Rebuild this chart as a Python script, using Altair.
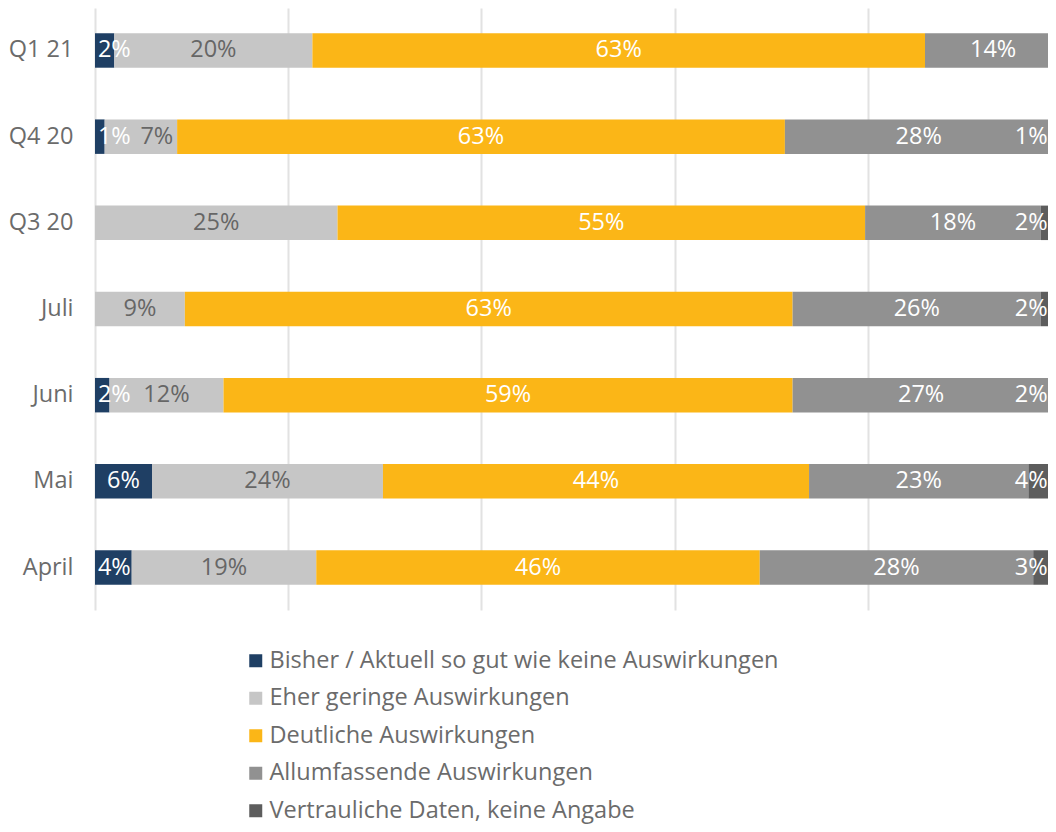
import altair as alt
import pandas as pd

categories = ["Q1 21", "Q4 20", "Q3 20", "Juli", "Juni", "Mai", "April"]
series = [
    "Bisher / Aktuell so gut wie keine Auswirkungen",
    "Eher geringe Auswirkungen",
    "Deutliche Auswirkungen",
    "Allumfassende Auswirkungen",
    "Vertrauliche Daten, keine Angabe",
]
colors = ["#1f3f64", "#c6c6c6", "#fbb617", "#919191", "#5d5d5d"]
label_colors = ["#ffffff", "#666666", "#ffffff", "#ffffff", "#ffffff"]

# segment widths (percent) per series, in category order
bisher = [2.0, 1.0, 0.0, 0.0, 1.5, 5.9, 3.8]
gering = [20.5, 7.5, 25.1, 9.3, 11.8, 23.9, 19.1]
deutlich = [63.4, 62.9, 54.6, 62.9, 58.9, 44.1, 45.9]
allumf = [14.1, 27.7, 18.2, 25.7, 26.6, 22.7, 28.3]
vertraul = [0.0, 0.9, 2.1, 2.1, 1.3, 3.4, 2.9]

# printed labels
lab_bisher = ["2%", "1%", "", "", "2%", "6%", "4%"]
lab_gering = ["20%", "7%", "25%", "9%", "12%", "24%", "19%"]
lab_deutlich = ["63%", "63%", "55%", "63%", "59%", "44%", "46%"]
lab_allumf = ["14%", "28%", "18%", "26%", "27%", "23%", "28%"]
lab_vertraul = ["", "1%", "2%", "2%", "2%", "4%", "3%"]

vals = [bisher, gering, deutlich, allumf, vertraul]
labs = [lab_bisher, lab_gering, lab_deutlich, lab_allumf, lab_vertraul]

rows = []
for si, (s, v, l) in enumerate(zip(series, vals, labs)):
    for ci, c in enumerate(categories):
        rows.append({"cat": c, "series": s, "order": si, "value": v[ci],
                     "label": l[ci], "lcolor": label_colors[si]})
df = pd.DataFrame(rows)

FONT = "Open Sans"
FS = 23.5
XMAX = 98.63

x_scale = alt.Scale(domain=[0, XMAX], nice=False, zero=True)
y_scale = alt.Scale(domain=categories, paddingInner=0.6, paddingOuter=0.293)

base = alt.Chart(df).transform_filter("datum.value > 0").transform_stack(
    stack="value", groupby=["cat"], as_=["x0", "x1"],
    sort=[alt.SortField("order", order="ascending")]
)

bars = base.mark_bar(clip=True).encode(
    y=alt.Y("cat:N", scale=y_scale, title=None,
            axis=alt.Axis(labelFont=FONT, labelFontSize=FS, labelColor="#6b6b6b",
                          labelPadding=22, ticks=False, domain=False)),
    x=alt.X("x0:Q", scale=x_scale, title=None,
            axis=alt.Axis(values=[0, 20, 40, 60, 80], labels=False, ticks=False,
                          domain=False, grid=True, gridColor="#e2e2e2", gridWidth=2)),
    x2="x1:Q",
    color=alt.Color("series:N", scale=alt.Scale(domain=series, range=colors),
                    legend=alt.Legend(title=None, orient="none", legendX=149, legendY=641,
                                      direction="vertical", symbolType="square",
                                      symbolSize=169, symbolStrokeWidth=0,
                                      labelFont=FONT, labelFontSize=FS,
                                      labelColor="#6b6b6b", labelLimit=800,
                                      labelOffset=2, rowPadding=12.5, padding=0)),
)

texts = base.transform_calculate(
    c0="clamp((datum.x0 + datum.x1) / 2, 2.0, 96.9)"
).transform_window(
    prev="lag(c0)", groupby=["cat"], sort=[alt.SortField("order", order="ascending")]
).transform_calculate(
    mid="datum.prev != null && datum.order == 1 ? max(datum.c0, datum.prev + 4.4) : datum.c0"
).mark_text(font=FONT, fontSize=FS, baseline="middle", align="center").encode(
    y=alt.Y("cat:N", scale=y_scale),
    x=alt.X("mid:Q", scale=x_scale),
    text="label:N",
    color=alt.Color("lcolor:N", scale=None),
)

chart = (bars + texts).properties(
    width=953, height=602,
    autosize=alt.AutoSizeParams(type="none"),
    padding={"left": 87, "top": 0, "right": 0, "bottom": 214},
).configure_view(stroke=None)

chart.save("out.html", embed_options={"renderer": "svg", "actions": False})
